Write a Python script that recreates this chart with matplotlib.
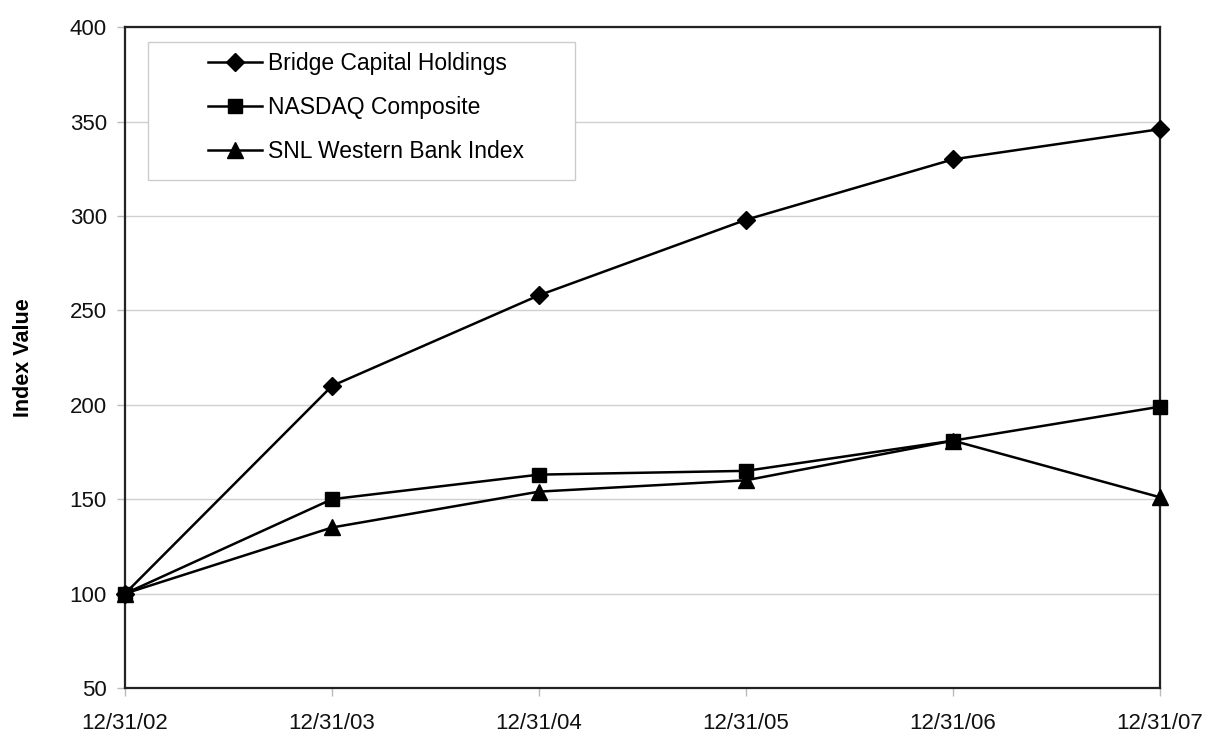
import matplotlib
matplotlib.use('Agg')
import matplotlib.pyplot as plt
from matplotlib.patches import Rectangle

# Index values
dates = ['12/31/02', '12/31/03', '12/31/04', '12/31/05', '12/31/06', '12/31/07']
bridge = [100, 210, 258, 298, 330, 346]
nasdaq = [100, 150, 163, 165, 181, 199]
snl = [100, 135, 154, 160, 181, 151]
y_ticks = [50, 100, 150, 200, 250, 300, 350, 400]

plt.rcParams['font.family'] = ['Liberation Sans', 'DejaVu Sans']

fig = plt.figure(figsize=(12.07, 7.35), dpi=100)
ax = fig.add_axes([0.1036, 0.064, 0.8575, 0.899])

x = list(range(len(dates)))
ax.plot(x, bridge, color='black', lw=1.8, marker='D', ms=9,
        label='Bridge Capital Holdings', clip_on=False, zorder=3)
ax.plot(x, nasdaq, color='black', lw=1.8, marker='s', ms=10,
        label='NASDAQ Composite', clip_on=False, zorder=3)
ax.plot(x, snl, color='black', lw=1.8, marker='^', ms=11,
        label='SNL Western Bank Index', clip_on=False, zorder=3)

ax.set_xlim(0, len(dates) - 1)
ax.set_ylim(50, 400)
ax.set_xticks(x)
ax.set_xticklabels(dates)
ax.set_yticks(y_ticks)
ax.tick_params(axis='both', labelsize=16, colors='#bbbbbb', labelcolor='#111111',
               length=6, width=1)
ax.tick_params(axis='x', pad=12)
ax.tick_params(axis='y', pad=7)
ax.grid(axis='y', color='#d0d0d0', lw=1)
ax.set_axisbelow(True)
for s in ax.spines.values():
    s.set_color('#222222')
    s.set_linewidth(1.6)

ax.set_ylabel('Index Value', fontsize=15.5, fontweight='bold', labelpad=26)

# legend box drawn separately so it can be padded like the original
ax.add_patch(Rectangle((0.0222, 0.7685), 0.4126, 0.2088, transform=ax.transAxes,
                       facecolor='white', edgecolor='#cccccc', lw=1, zorder=4))
leg = ax.legend(loc='upper left', bbox_to_anchor=(0.080, 0.962), fontsize=16.5,
                frameon=False, handlelength=2.35, handletextpad=0.28,
                labelspacing=0.9, borderpad=0, borderaxespad=0)
leg.set_zorder(5)

fig.savefig('out.png', dpi=100)
